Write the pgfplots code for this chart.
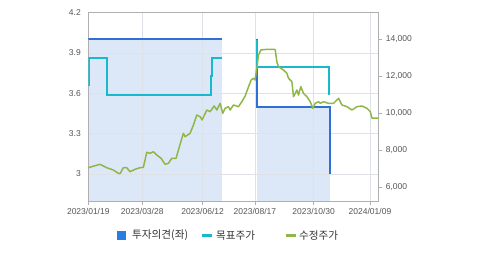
\documentclass[border=0pt]{standalone}
\usepackage{fontspec}
\setmainfont{Liberation Sans}
\newfontfamily\kr{Noto Sans CJK KR}
\usepackage{pgfplots}
\pgfplotsset{compat=1.18}
\definecolor{opblue}{RGB}{48,112,212}
\definecolor{legblue}{RGB}{42,125,225}
\definecolor{tgcyan}{RGB}{26,184,204}
\definecolor{prgreen}{RGB}{143,183,72}
\definecolor{fillblue}{RGB}{220,232,248}
\definecolor{gridc}{RGB}{222,226,232}
\definecolor{framec}{RGB}{176,176,176}
\definecolor{tickc}{RGB}{85,85,85}
\definecolor{legc}{RGB}{51,51,51}
\pgfplotsset{
  base/.style={at={(88.3pt,54pt)}, anchor=south west, scale only axis,
    width=290pt, height=188.5pt, xmin=0, xmax=365.5, clip=true},
}
\begin{document}
\begin{tikzpicture}[x=1pt,y=1pt]
\path[use as bounding box] (0,0) rectangle (479,255);
% shading (investment opinion area)
\begin{axis}[base, ymin=2.8, ymax=4.2, hide axis]
\addplot[fill=fillblue, draw=none] coordinates {(0,2.8)(0,4.0)(168.7,4.0)(168.7,2.8)};
\addplot[fill=fillblue, draw=none] coordinates {(212.4,2.8)(212.4,3.5)(304,3.5)(304,2.8)};
\end{axis}
% left axis
\begin{axis}[base, ymin=2.8, ymax=4.2,
  /pgf/number format/assume math mode=true,
  axis line style={framec, line width=0.8pt},
  xtick={0,68,144,210,284,355},
  xticklabels={2023/01/19,2023/03/28,2023/06/12,2023/08/17,2023/10/30,2024/01/09},
  ytick={3,3.3,3.6,3.9,4.2}, yticklabels={3,3.3,3.6,3.9,4.2},
  xmajorgrids, ymajorgrids, grid style={gridc, line width=0.7pt},
  tick align=outside, xtick pos=left, ytick pos=left,
  major tick length=4pt,
  y tick style={draw=none},
  x tick style={framec, line width=0.8pt},
  ticklabel style={font=\fontsize{8.5}{10}\selectfont, text=tickc},
]
\addplot[opblue, line width=2pt] coordinates {(0,4.0)(168.7,4.0)};
\addplot[opblue, line width=2pt] coordinates {(212.4,4.0)(212.4,3.5)(304,3.5)(304,3.0)};
\end{axis}
% right axis
\begin{axis}[base, ymin=5260, ymax=15448,
  /pgf/number format/assume math mode=true,
  scaled y ticks=false,
  axis x line=none, axis y line*=right,
  y axis line style={framec, line width=0.8pt},
  ytick={6000,8000,10000,12000,14000},
  yticklabels={{6,000},{8,000},{10,000},{12,000},{14,000}},
  tick align=outside, major tick length=4pt,
  y tick style={framec, line width=0.8pt},
  yticklabel style={font=\fontsize{8.5}{10}\selectfont, text=tickc},
]
\addplot[tgcyan, line width=2pt] coordinates {(1.3,11500)(1.3,13000)(23,13000)(23,11000)(154.4,11000)(154.4,12000)(156,12000)(156,13000)(168.7,13000)};
\addplot[tgcyan, line width=2pt] coordinates {(212.4,13960)(212.4,12500)(303.7,12500)(303.7,11000)};
\addplot[prgreen, line width=1.5pt, line join=round] coordinates {
(0,7060)(8.5,7168)(14.8,7243)(23.2,7060)(31.5,6935)(37.8,6757)(40,6735)(44.2,7060)
(48.4,7060)(52.6,6843)(58.9,6973)(65.2,7060)(69.4,7081)(73.7,7892)(77.8,7838)(82,7925)
(86.3,7746)(91.7,7568)(96.8,7243)(100.9,7297)(105.2,7568)(110.6,7568)(114.8,8195)
(119.8,8919)(122,8735)(128.3,8919)(132.5,9368)(136.7,9908)(140.9,9816)(143.4,9638)
(149.4,10178)(153.5,10086)(158.6,10395)(162,10178)(166.1,10540)(169.5,10000)
(172.4,10270)(176.6,10357)(178.8,10178)(182.9,10449)(189.2,10357)(193.5,10627)
(197.7,10935)(201.8,11422)(205.2,11800)(208.2,11892)(210.3,11800)(211.6,12232)
(212.8,12557)(214.5,13151)(217.5,13421)(225.1,13459)(235.5,13448)(237.7,12773)
(239.7,12519)(246,12340)(250.3,12162)(252.3,11892)(256.6,11708)(258.6,10897)
(262.9,11259)(264.9,10989)(267.9,11438)(271.2,11081)(275.5,10897)(279.7,10627)
(283.1,10270)(286,10540)(290.2,10627)(292.3,10540)(296.5,10627)(302.8,10540)
(309.1,10540)(315.4,10811)(319.7,10449)(326,10357)(332.3,10178)(338.6,10357)
(344.9,10395)(351.2,10270)(355.4,10086)(357.5,9746)(365.5,9746)};
\end{axis}
% legend
\fill[legblue] (117,15) rectangle (126,24);
\node[anchor=west, inner sep=0pt, text=legc, font=\kr\fontsize{10.6}{12}\selectfont] at (132,19.5) {투자의견(좌)};
\draw[tgcyan, line width=2.5pt] (202,19.5) -- (212,19.5);
\node[anchor=west, inner sep=0pt, text=legc, font=\kr\fontsize{10.6}{12}\selectfont] at (216,19.5) {목표주가};
\draw[prgreen, line width=2.5pt] (285.7,19.5) -- (295.7,19.5);
\node[anchor=west, inner sep=0pt, text=legc, font=\kr\fontsize{10.6}{12}\selectfont] at (299,19.5) {수정주가};
\end{tikzpicture}
\end{document}
